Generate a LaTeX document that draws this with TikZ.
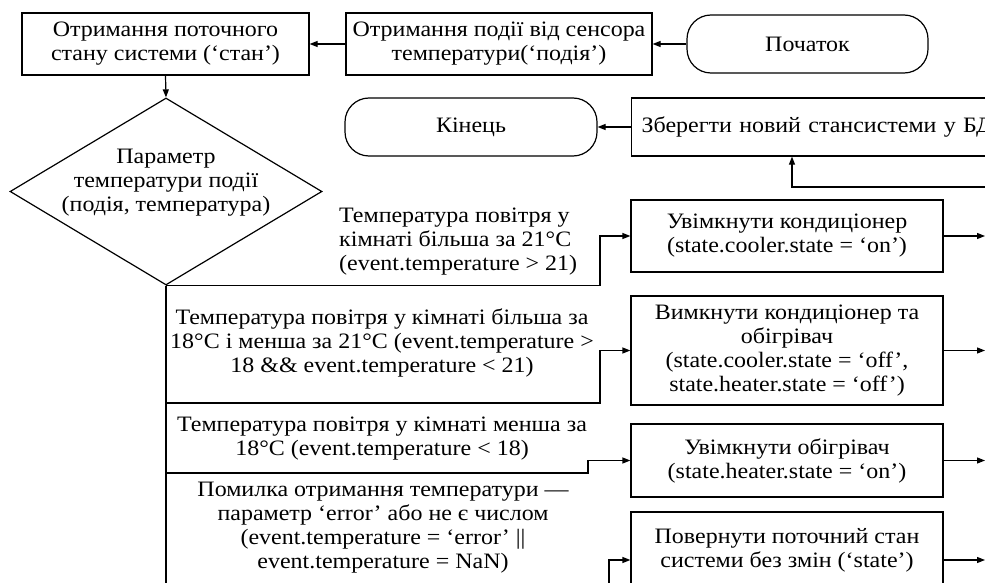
\documentclass[tikz,border=0pt]{standalone}
\usepackage{fontspec}
\setmainfont[FakeStretch=1.09]{Liberation Serif}
\usetikzlibrary{shapes.geometric,arrows.meta}
\tikzset{
  base/.style={font=\fontsize{22}{24}\selectfont, inner sep=0pt},
  box/.style={base, draw, line width=1.2pt, rectangle, align=center},
  term/.style={base, draw, line width=1.2pt, rounded corners=24pt, align=center},
  dec/.style={draw, line width=1.2pt, diamond, inner sep=0pt},
  lbl/.style={base, align=center},
  arr/.style={line width=1.2pt, -{Triangle[length=8pt,width=6pt]}},
  ln/.style={line width=1.2pt},
}
\begin{document}
\begin{tikzpicture}[x=1pt,y=-1pt]
\useasboundingbox (0,0) rectangle (985,583);
\begin{scope}
\clip (0,0) rectangle (985,583);
% top row
\node[box, minimum width=287pt, minimum height=62pt] (b1) at (165.5,44) {Отримання поточного\\стану системи (‘стан’)};
\node[box, minimum width=306pt, minimum height=62pt] (b2) at (499,44) {Отримання події від сенсора\\температури(‘подія’)};
\node[term, minimum width=241pt, minimum height=58pt] (start) at (807.5,44) {Початок};
% second row
\node[term, minimum width=252pt, minimum height=58pt] (end) at (471,127) {Кінець};
\node[box, anchor=west, minimum width=400pt, minimum height=58pt, text width=380pt, align=left] (save) at (631,127) {Зберегти новий стансистеми у БД};
% decision
\node[dec, minimum width=312pt, minimum height=187pt] (d) at (166,191.5) {};
\node[lbl] (dt) at (166,183) {Параметр\\температури події\\(подія, температура)};
% action boxes
\node[box, minimum width=312pt, minimum height=72pt] (c1) at (787,236) {Увімкнути кондиціонер\\(state.cooler.state = ‘on’)};
\node[box, minimum width=312pt, minimum height=109pt] (c2) at (787,350.5) {Вимкнути кондиціонер та\\обігрівач\\(state.cooler.state = ‘off’,\\state.heater.state = ‘off’)};
\node[box, minimum width=312pt, minimum height=73pt] (c3) at (787,460.5) {Увімкнути обігрівач\\(state.heater.state = ‘on’)};
\node[box, minimum width=312pt, minimum height=96pt] (c4) at (787,560) {Повернути поточний стан\\системи без змін (‘state’)\\\mbox{}};
% condition labels
\node[lbl, anchor=west, align=left] (l1) at (339,242) {Температура повітря у\\кімнаті більша за 21°C\\(event.temperature > 21)};
\node[lbl] (l2) at (382,343) {Температура повітря у кімнаті більша за\\18°C і менша за 21°C (event.temperature >\\18 \&\& event.temperature < 21)};
\node[lbl] (l3) at (382,438.5) {Температура повітря у кімнаті менша за\\18°C (event.temperature < 18)};
\node[lbl] (l4) at (383,528) {Помилка отримання температури —\\параметр ‘error’ або не є числом\\(event.temperature = ‘error’ ||\\event.temperature = NaN)};
% coordinates
\coordinate (sv) at (1000,187);
\coordinate (trunk) at (166,600);
\coordinate (j2) at (166,403);
\coordinate (j3) at (166,473);
\coordinate (b4) at (609,600);
\coordinate (o1) at (985,236);
\coordinate (o2) at (985,350.5);
\coordinate (o3) at (985,460.5);
\coordinate (o4) at (985,560);
% connectors
\draw[arr] (start.west) -- (b2.east);
\draw[arr] (b2.west) -- (b1.east);
\draw[arr] (b1.south) -- (d.north);
\draw[arr] (save.west) -- (end.east);
\draw[arr] (sv) -| ([xshift=161pt]save.south west);
\draw[ln] (d.south) -- (trunk);
\draw[arr] (d.south) -- ++(434,0) |- (c1.west);
\draw[arr] (j2) -- ++(434,0) |- (c2.west);
\draw[arr] (j3) -- ++(422,0) |- (c3.west);
\draw[arr] (b4) |- (c4.west);
\draw[arr] (c1.east) -- (o1);
\draw[arr] (c2.east) -- (o2);
\draw[arr] (c3.east) -- (o3);
\draw[arr] (c4.east) -- (o4);
\end{scope}
\end{tikzpicture}
\end{document}
